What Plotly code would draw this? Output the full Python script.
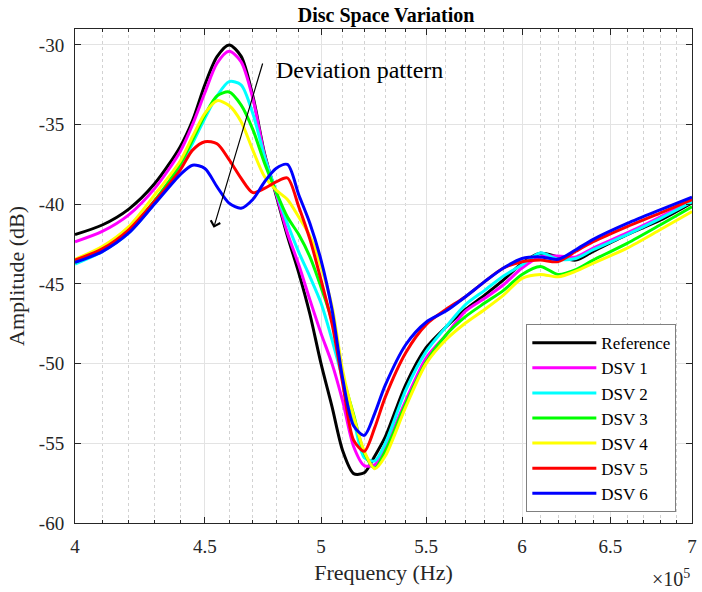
import math
import plotly.graph_objects as go

# Frequency grid (units of 1e5 Hz)
freq_e5 = [4.00, 4.10, 4.20, 4.30, 4.40, 4.45, 4.50, 4.55, 4.60, 4.65, 4.70, 4.75,
           4.80, 4.85, 4.90, 4.95, 5.00, 5.05, 5.10, 5.15, 5.20, 5.25, 5.30, 5.40,
           5.50, 5.60, 5.70, 5.80, 5.90, 6.00, 6.10, 6.20, 6.30, 6.40, 6.60, 6.80, 7.00]

reference = [-41.9, -41.3, -40.3, -38.7, -36.4, -34.75, -32.5, -30.73, -30.0, -30.7, -33.2, -36.8,
             -39.4, -42.0, -44.3, -46.9, -50.0, -52.7, -55.5, -56.9, -56.85, -55.8, -54.6, -51.3,
             -49.0, -47.7, -46.6, -45.7, -44.75, -43.7, -43.07, -43.3, -43.5, -42.95, -41.9, -41.0, -39.9]

dsv1 = [-42.35, -41.7, -40.66, -39.0, -36.7, -35.0, -33.0, -31.15, -30.4, -31.05, -33.35, -36.9,
        -39.3, -41.8, -43.8, -46.0, -48.1, -50.0, -52.4, -55.2, -56.4, -56.35, -55.3, -52.3,
        -49.65, -48.2, -46.7, -45.9, -45.05, -44.0, -43.3, -43.25, -43.3, -42.75, -41.8, -40.8, -39.7]

dsv2 = [-43.75, -42.97, -41.8, -39.9, -37.6, -36.17, -34.6, -33.2, -32.3, -32.5, -34.3, -37.0,
        -39.2, -41.2, -43.0, -44.55, -46.2, -48.5, -51.0, -53.5, -55.9, -56.1, -55.0, -51.65,
        -49.25, -47.7, -46.3, -45.4, -44.5, -43.8, -43.05, -43.45, -43.4, -42.85, -41.9, -40.9, -39.85]

dsv3 = [-43.65, -42.8, -41.6, -39.75, -37.5, -35.96, -34.4, -33.2, -32.95, -33.76, -35.3, -37.4,
        -39.2, -40.8, -41.9, -43.3, -45.2, -47.3, -50.8, -53.2, -55.6, -56.55, -55.5, -52.5,
        -49.9, -48.2, -47.05, -46.2, -45.4, -44.4, -43.9, -44.4, -44.1, -43.5, -42.45, -41.3, -40.15]

dsv4 = [-43.45, -42.65, -41.4, -39.4, -37.3, -35.75, -34.3, -33.5, -33.8, -34.8, -36.6, -38.26,
        -39.1, -39.7, -40.8, -42.0, -43.9, -46.4, -50.5, -53.3, -55.5, -56.6, -55.8, -52.7,
        -50.0, -48.5, -47.45, -46.6, -45.7, -44.65, -44.4, -44.55, -44.2, -43.7, -42.75, -41.6, -40.45]

dsv5 = [-43.5, -42.8, -41.6, -39.8, -37.85, -36.6, -36.07, -36.2, -37.2, -38.36, -39.27, -39.0,
        -38.6, -38.35, -40.15, -42.2, -44.75, -47.5, -51.3, -54.8, -55.5, -54.0, -52.1, -49.3,
        -47.55, -46.6, -45.8, -44.85, -44.0, -43.6, -43.5, -43.6, -42.95, -42.35, -41.4, -40.55, -39.7]

dsv6 = [-43.65, -42.97, -41.8, -39.97, -38.15, -37.55, -37.75, -38.9, -39.93, -40.25, -39.7, -38.6,
        -37.75, -37.5, -39.4, -41.2, -43.5, -46.6, -51.0, -53.9, -54.5, -53.1, -51.35, -48.8,
        -47.4, -46.7, -45.8, -44.85, -44.0, -43.4, -43.3, -43.45, -42.85, -42.2, -41.2, -40.35, -39.55]

series_names = ["Reference", "DSV 1", "DSV 2", "DSV 3", "DSV 4", "DSV 5", "DSV 6"]
series_values = [reference, dsv1, dsv2, dsv3, dsv4, dsv5, dsv6]
series_colors = ["#000000", "#FF00FF", "#00FFFF", "#00FF00", "#FFFF00", "#FF0000", "#0000FF"]

x_tick_e5 = [4, 4.5, 5, 5.5, 6, 6.5, 7]
x_tick_text = ["4", "4.5", "5", "5.5", "6", "6.5", "7"]
y_ticks = [-60, -55, -50, -45, -40, -35, -30]
y_tick_text = ["-60", "-55", "-50", "-45", "-40", "-35", "-30"]

freq_hz = [f * 1e5 for f in freq_e5]

FONT = "Liberation Serif"
AX = "#262626"

fig = go.Figure()
for name, vals, col in zip(series_names, series_values, series_colors):
    fig.add_trace(go.Scatter(x=freq_hz, y=vals, mode="lines", name=name,
                             line=dict(color=col, width=3, shape="spline", smoothing=0.8)))

fig.update_layout(
    width=702, height=592,
    margin=dict(l=75, r=5, t=29, b=69),
    paper_bgcolor="white", plot_bgcolor="white",
    font=dict(family=FONT, color=AX),
    title=dict(text="<b>Disc Space Variation</b>", x=0.55, xanchor="center",
               y=0.975, yanchor="middle", font=dict(family=FONT, size=20, color="black")),
    showlegend=True,
    legend=dict(x=0.7315, y=0.022, xanchor="left", yanchor="bottom",
                bgcolor="white", bordercolor="#808080", borderwidth=1,
                font=dict(family=FONT, size=17, color="black"),
                itemwidth=64, tracegroupgap=0),
)

major_hz = [v * 1e5 for v in x_tick_e5]

fig.update_xaxes(
    type="log",
    range=[math.log10(4e5), math.log10(7e5)],
    tickvals=major_hz, ticktext=x_tick_text,
    ticks="inside", ticklen=6, tickcolor=AX, ticklabelstandoff=6,
    showline=True, linecolor=AX, linewidth=1, mirror="ticks",
    showgrid=True, gridcolor="#e3e3e3", gridwidth=1,
    tickfont=dict(family=FONT, size=19, color=AX),
    title=dict(text="Frequency (Hz)", font=dict(family=FONT, size=22, color=AX), standoff=8),
    zeroline=False,
    minor=dict(tickmode="linear", tick0=400000, dtick="L10000", ticks="inside", ticklen=3,
               tickcolor=AX, showgrid=True, gridcolor="#d2d2d2", griddash="dot", gridwidth=1),
)

fig.update_yaxes(
    range=[-60, -29],
    tickvals=y_ticks, ticktext=y_tick_text,
    ticks="inside", ticklen=6, tickcolor=AX, ticklabelstandoff=6,
    showline=True, linecolor=AX, linewidth=1, mirror="ticks",
    showgrid=True, gridcolor="#e3e3e3", gridwidth=1,
    tickfont=dict(family=FONT, size=19, color=AX),
    title=dict(text="Amplitude (dB)", font=dict(family=FONT, size=22, color=AX), standoff=8),
    zeroline=False,
)

# x10^5 exponent label
fig.add_annotation(xref="paper", yref="paper", x=1.0, y=-0.112, xanchor="right", yanchor="middle",
                   text="×10<sup>5</sup>", showarrow=False, font=dict(family=FONT, size=20, color=AX))

# Deviation pattern text and arrow
fig.add_annotation(xref="paper", yref="paper", x=0.323, y=0.917, xanchor="left", yanchor="middle",
                   text="Deviation pattern", showarrow=False, font=dict(family=FONT, size=24, color="black"))
fig.add_annotation(xref="x", yref="y", axref="x", ayref="y",
                   x=math.log10(4.536e5), y=-41.48, ax=math.log10(4.744e5), ay=-31.07,
                   text="", showarrow=True, arrowhead=4, arrowsize=1.6, arrowwidth=1.2, arrowcolor="black")

fig.write_html("out.html")
